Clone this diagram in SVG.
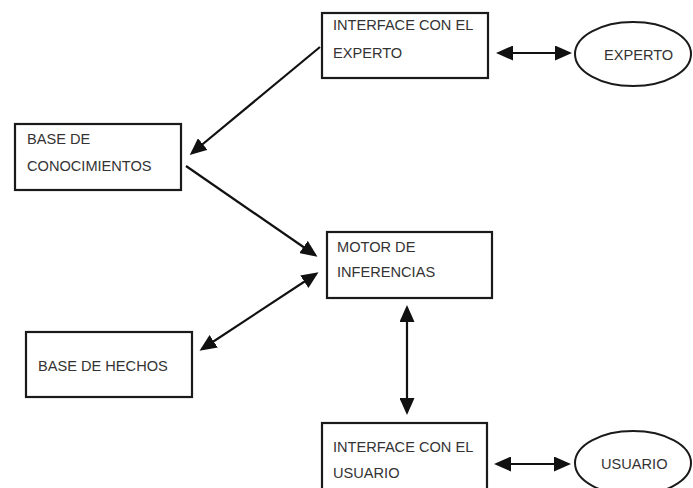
<svg xmlns="http://www.w3.org/2000/svg" width="693" height="488" viewBox="0 0 693 488">
<defs>
<style>
.box{fill:#fff;stroke:#1a1a1a;stroke-width:2.2}
.ell{fill:#fff;stroke:#1a1a1a;stroke-width:2}
.t{font-family:"Liberation Sans",Arial,sans-serif;font-size:14.6px;fill:#333}
.c{stroke:#111;stroke-width:2.2;fill:none;marker-end:url(#ah)}
.d{marker-start:url(#ah)}
</style>
<marker id="ah" viewBox="0 0 17 15" refX="14" refY="7.5" markerWidth="17" markerHeight="15" markerUnits="userSpaceOnUse" orient="auto-start-reverse">
<path d="M0,0 L17,7.5 L0,15 z" fill="#111"/>
</marker>
</defs>
<rect width="693" height="488" fill="#fff"/>
<g id="connectors">
<line class="c" x1="320" y1="47" x2="192" y2="153"/>
<line class="c" x1="186" y1="166" x2="315" y2="255"/>
<line class="c d" x1="202" y1="349" x2="316" y2="274"/>
<line class="c d" x1="407" y1="308" x2="407" y2="412"/>
<line class="c d" x1="499" y1="53" x2="569" y2="53"/>
<line class="c d" x1="497" y1="464" x2="568" y2="464"/>
</g>
<g id="interface-experto">
<rect class="box" x="322" y="13" width="166" height="65"/>
<text class="t" x="333" y="30">INTERFACE CON EL</text>
<text class="t" x="333" y="58">EXPERTO</text>
</g>
<g id="experto">
<ellipse class="ell" cx="633" cy="54" rx="58" ry="32"/>
<text class="t" x="604" y="60">EXPERTO</text>
</g>
<g id="base-conocimientos">
<rect class="box" x="15" y="124" width="166" height="66"/>
<text class="t" x="27" y="144">BASE DE</text>
<text class="t" x="27" y="171">CONOCIMIENTOS</text>
</g>
<g id="motor-inferencias">
<rect class="box" x="327" y="232" width="165" height="66"/>
<text class="t" x="337" y="252">MOTOR DE</text>
<text class="t" x="337" y="277">INFERENCIAS</text>
</g>
<g id="base-hechos">
<rect class="box" x="26" y="332" width="166" height="65"/>
<text class="t" x="38" y="371">BASE DE HECHOS</text>
</g>
<g id="interface-usuario">
<rect class="box" x="322" y="423" width="165" height="70"/>
<text class="t" x="333" y="452">INTERFACE CON EL</text>
<text class="t" x="333" y="478">USUARIO</text>
</g>
<g id="usuario">
<ellipse class="ell" cx="633" cy="463" rx="58" ry="32"/>
<text class="t" x="601" y="469">USUARIO</text>
</g>
</svg>
